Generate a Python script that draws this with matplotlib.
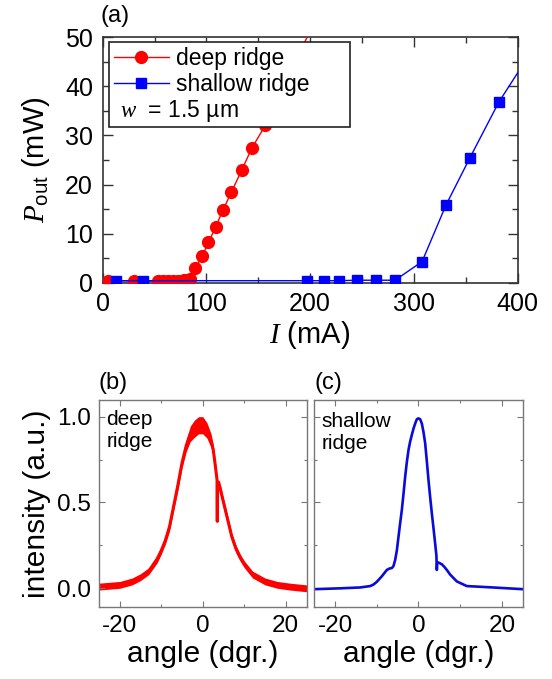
import matplotlib
matplotlib.use('Agg')
import matplotlib.pyplot as plt
from matplotlib.ticker import MultipleLocator
from matplotlib.lines import Line2D
import numpy as np

plt.rcParams['font.family'] = ['Liberation Sans', 'DejaVu Sans']
plt.rcParams['mathtext.fontset'] = 'custom'
plt.rcParams['mathtext.rm'] = 'Liberation Sans'
plt.rcParams['mathtext.it'] = 'Liberation Serif:italic'
plt.rcParams['axes.unicode_minus'] = False

# L-I curves (current in mA, output power in mW)
deep_I = [5, 30, 53, 58, 63, 68, 73, 78, 84, 89, 96, 102, 109, 116, 124, 134, 144, 157, 168, 180, 192, 204]
deep_P = [0.4, 0.3, 0.3, 0.3, 0.3, 0.4, 0.4, 0.5, 0.8, 2.9, 5.4, 8.2, 11.4, 14.8, 18.4, 22.9, 27.5, 32.1,
          37.0, 42.3, 47.8, 53.0]
shallow_I = [13, 39, 197, 213, 228, 245, 264, 282, 308, 331, 354, 382, 410]
shallow_P = [0.4, 0.4, 0.4, 0.4, 0.4, 0.5, 0.5, 0.5, 4.3, 15.8, 25.4, 36.8, 46.0]

# far-field profile, deep ridge (angle in deg, normalised intensity, noise half-width)
ff_deep_ang = [-25, -20, -17, -15, -13, -11, -10, -9, -8, -7, -6, -5, -4, -3, -2, -1, 0, 1, 2, 2.5, 3,
               3.45, 3.5, 3.55, 4, 5, 6, 7, 8, 9, 10, 12, 15, 18, 21, 25]
ff_deep_int = [0.01, 0.02, 0.04, 0.065, 0.10, 0.17, 0.22, 0.28, 0.36, 0.48, 0.60, 0.73, 0.83, 0.90, 0.93,
               0.95, 0.95, 0.92, 0.86, 0.81, 0.72, 0.63, 0.39, 0.62, 0.60, 0.50, 0.40, 0.30, 0.23, 0.18,
               0.14, 0.08, 0.04, 0.02, 0.01, 0.0]
ff_deep_noise = [0.02, 0.02, 0.02, 0.02, 0.02, 0.022, 0.022, 0.022, 0.025, 0.025, 0.03, 0.03, 0.035,
                 0.045, 0.05, 0.05, 0.05, 0.045, 0.04, 0.03, 0.03, 0.0, 0.0, 0.0, 0.03, 0.025, 0.025,
                 0.022, 0.022, 0.02, 0.02, 0.02, 0.02, 0.02, 0.02, 0.02]

# far-field profile, shallow ridge
ff_shallow_ang = [-25, -18.7, -14.0, -11.6, -10.8, -10.0, -8.8, -7.6, -7.0, -6.4, -6.0, -5.6, -5.2, -4.8,
                  -4.4, -4.0, -3.6, -3.2, -2.8, -2.4, -2.0, -1.6, -1.2, -0.8, -0.4, 0, 0.4, 0.8, 1.2,
                  1.6, 2.0, 2.4, 2.8, 3.2, 3.6, 4.0, 4.3, 4.4, 4.5, 4.8, 5.6, 6.2, 6.8, 7.6, 8.4, 9.2,
                  10.0, 11.6, 14.0, 17.1, 25]
ff_shallow_int = [-0.005, 0.0, 0.005, 0.013, 0.022, 0.038, 0.07, 0.107, 0.115, 0.118, 0.13, 0.165, 0.22,
                  0.30, 0.38, 0.456, 0.55, 0.65, 0.735, 0.806, 0.855, 0.894, 0.93, 0.96, 0.985, 0.99,
                  0.985, 0.96, 0.91, 0.845, 0.74, 0.63, 0.53, 0.437, 0.35, 0.26, 0.19, 0.107, 0.15,
                  0.15, 0.14, 0.125, 0.107, 0.08, 0.06, 0.04, 0.031, 0.013, 0.01, 0.006, -0.005]

fig = plt.figure(figsize=(5.52, 6.79), dpi=100)

# ---- (a) L-I characteristics ----
ax = fig.add_axes([0.186, 0.5837, 0.7515, 0.3613])
ax.plot(deep_I, deep_P, '-o', color='#ff0000', lw=1.0, ms=8.5, mec='#ff0000', zorder=3)
ax.plot(shallow_I, shallow_P, '-s', color='#0000ff', lw=1.0, ms=7.5, mec='#0000ff', zorder=3)
ax.set_xlim(0, 400)
ax.set_ylim(0, 50)
ax.xaxis.set_major_locator(MultipleLocator(100))
ax.xaxis.set_minor_locator(MultipleLocator(50))
ax.yaxis.set_major_locator(MultipleLocator(10))
ax.yaxis.set_minor_locator(MultipleLocator(5))
ax.tick_params(which='both', direction='in', top=True, right=True, color='#333333',
               labelsize=18, width=1.0)
ax.tick_params(which='major', length=7, pad=7)
ax.tick_params(which='minor', length=4)
for s in ax.spines.values():
    s.set_color('#333333')
    s.set_linewidth(1.2)
ax.set_xlabel(r'$I$ (mA)', fontsize=21, labelpad=2)
ax.set_ylabel(r'$P_{\mathrm{out}}$ (mW)', fontsize=21, labelpad=9)

handles = [Line2D([], [], color='#ff0000', marker='o', ms=8.5, lw=1.0),
           Line2D([], [], color='#0000ff', marker='s', ms=7.5, lw=1.0),
           Line2D([], [], color='none')]
leg = ax.legend(handles, ['deep ridge', 'shallow ridge', ' '], loc='upper left',
                bbox_to_anchor=(0.015, 0.4, 0.581, 0.581), mode='expand', borderaxespad=0,
                fontsize=16.5, frameon=True, fancybox=False, framealpha=1, edgecolor='#222222',
                handlelength=2.4, handletextpad=0.3, labelspacing=0.12, borderpad=0.22)
leg.get_frame().set_linewidth(1.2)
leg.set_zorder(5)
ax.text(0.042, 0.70, r'$w$  = 1.5 µm', transform=ax.transAxes, fontsize=16.5, va='center',
        ha='left', zorder=10)

# ---- (b), (c) far-field patterns ----
axb = fig.add_axes([0.1793, 0.1065, 0.376, 0.3044])
axc = fig.add_axes([0.5694, 0.1065, 0.3775, 0.3044])

ang_d = np.array(ff_deep_ang)
int_d = np.array(ff_deep_int)
nz_d = np.array(ff_deep_noise)
axb.fill_between(ang_d, int_d - nz_d, int_d + nz_d, color='#ff0000', lw=0)
axb.plot(ang_d, int_d, color='#ff0000', lw=2.2)
axc.plot(ff_shallow_ang, ff_shallow_int, color='#0a0adc', lw=1.9)

for a in (axb, axc):
    a.set_xlim(-25, 25)
    a.set_ylim(-0.107, 1.097)
    a.xaxis.set_major_locator(MultipleLocator(20))
    a.xaxis.set_minor_locator(MultipleLocator(10))
    a.yaxis.set_major_locator(MultipleLocator(0.5))
    a.yaxis.set_minor_locator(MultipleLocator(0.25))
    a.tick_params(which='both', direction='in', top=True, right=True, color='#777777',
                  labelsize=17.5, width=0.8)
    a.tick_params(which='major', length=4, pad=6)
    a.tick_params(which='minor', length=2.5)
    for s in a.spines.values():
        s.set_color('#777777')
        s.set_linewidth(1.0)
    a.set_xlabel('angle (dgr.)', fontsize=21.5, labelpad=2)

axb.set_yticks([0.0, 0.5, 1.0])
axb.set_yticklabels(['0.0', '0.5', '1.0'])
axb.set_ylabel('intensity (a.u.)', fontsize=21.5, labelpad=4)
axc.tick_params(labelleft=False)

axb.text(0.035, 0.95, 'deep\nridge', transform=axb.transAxes, fontsize=15, va='top', ha='left',
         linespacing=1.15)
axc.text(0.035, 0.94, 'shallow\nridge', transform=axc.transAxes, fontsize=15, va='top', ha='left',
         linespacing=1.15)

fig.text(100 / 552, 1 - 16 / 679, '(a)', fontsize=17, va='center', ha='left')
fig.text(98 / 552, 1 - 383 / 679, '(b)', fontsize=17, va='center', ha='left')
fig.text(314 / 552, 1 - 383 / 679, '(c)', fontsize=17, va='center', ha='left')

fig.savefig('out.png', dpi=100)
